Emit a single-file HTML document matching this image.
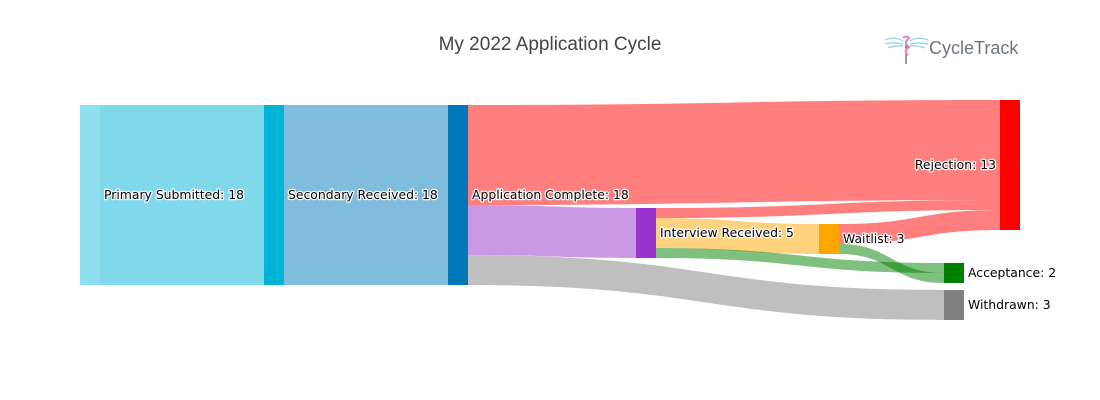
<!DOCTYPE html>
<html><head><meta charset="utf-8"><style>
body{margin:0;background:#fff}
svg{display:block}
.lbl{font-family:"DejaVu Sans","Liberation Sans",sans-serif;font-size:12.4px;fill:#000;paint-order:stroke;stroke:#fff;stroke-width:2.5px;stroke-linejoin:round}
</style></head><body>
<svg id="c" width="1100" height="400" xmlns="http://www.w3.org/2000/svg">
<text x="550" y="50" text-anchor="middle" font-family="'Liberation Sans',sans-serif" font-size="19" fill="#444">My 2022 Application Cycle</text>
<g>
<path d="M885 40 Q895 36 903 41 M885 44 Q895 42 903 44 M888 48 Q896 45 903 46 M928 40 Q918 36 910 41 M928 44 Q918 42 910 44 M925 48 Q917 45 910 46" stroke="#8fd0f0" stroke-width="1.2" fill="none"/>
<line x1="906" y1="40" x2="906" y2="64" stroke="#333" stroke-width="1"/>
<path d="M903 38 q3 -3 6 0 q-6 5 0 9 q-6 4 -1 8" stroke="#f07cb0" stroke-width="2" fill="none"/>
<text x="929" y="54" font-family="'Liberation Sans',sans-serif" font-size="18" fill="#6b7580">CycleTrack</text>
</g>
<g id="links"></g><g id="nodes"></g><g id="labels"></g>
</svg>
<script>
const nodeNames=["Primary Submitted","Secondary Received","Application Complete","Rejection","Interview Received","Waitlist","Acceptance","Withdrawn"];
const linkSource=[0,1,2,2,2,4,4,4,5,5];
const linkTarget=[1,2,3,4,7,3,5,6,3,6];
const linkValue=[18,18,10,5,3,1,3,1,2,1];
// layout (not data)
const nodeX=[80,264,448,1000,636,819,944,944];
const nodeTop=[105,105,105,100,208,224,263,290];
const nodeColor=["#90dfef","#00b4d8","#0077b6","#ff0000","#9932cc","#ffa500","#008000","#808080"];
const linkColor=["#80d9ea","#80bcdb","rgba(255,0,0,0.5)","rgba(153,50,204,0.5)","rgba(128,128,128,0.5)","rgba(255,0,0,0.5)","rgba(255,165,0,0.5)","rgba(0,128,0,0.5)","rgba(255,0,0,0.5)","rgba(0,128,0,0.5)"];
const scale=10, W=20, NS="http://www.w3.org/2000/svg";
const inSum=nodeNames.map(()=>0), outSum=nodeNames.map(()=>0);
linkValue.forEach((v,i)=>{inSum[linkTarget[i]]+=v;outSum[linkSource[i]]+=v;});
const nodeVal=nodeNames.map((_,i)=>Math.max(inSum[i],outSum[i]));
const outOff=nodeNames.map(()=>0), inOff=nodeNames.map(()=>0);
const L=document.getElementById('links');
linkValue.forEach((v,i)=>{
  const s=linkSource[i],t=linkTarget[i],h=v*scale;
  const x0=nodeX[s]+W,x1=nodeX[t],y0=nodeTop[s]+outOff[s],y1=nodeTop[t]+inOff[t];
  outOff[s]+=h;inOff[t]+=h;
  const m=(x0+x1)/2;
  const p=document.createElementNS(NS,'path');
  p.setAttribute('d',`M${x0},${y0} C${m},${y0} ${m},${y1} ${x1},${y1} L${x1},${y1+h} C${m},${y1+h} ${m},${y0+h} ${x0},${y0+h} Z`);
  p.setAttribute('fill',linkColor[i]);
  
  
  L.appendChild(p);
});
const N=document.getElementById('nodes'),T=document.getElementById('labels');
nodeNames.forEach((n,i)=>{
  const h=nodeVal[i]*scale;
  const r=document.createElementNS(NS,'rect');
  r.setAttribute('x',nodeX[i]);r.setAttribute('y',nodeTop[i]);r.setAttribute('width',W);r.setAttribute('height',h);r.setAttribute('fill',nodeColor[i]);
  
  
  N.appendChild(r);
  const t=document.createElementNS(NS,'text');
  const right=(i===3);
  t.setAttribute('x',right?nodeX[i]-4:nodeX[i]+W+4);
  t.setAttribute('y',nodeTop[i]+h/2+4);
  if(right)t.setAttribute('text-anchor','end');
  t.setAttribute('class','lbl');
  t.textContent=n+': '+nodeVal[i];
  
  
  T.appendChild(t);
});
</script>
</body></html>
